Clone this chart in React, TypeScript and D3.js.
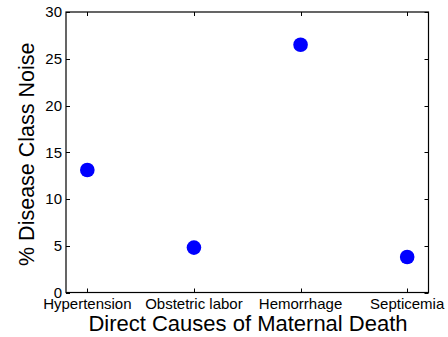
import React, { useEffect, useRef } from "react";
import * as d3 from "d3";

const causes = ["Hypertension", "Obstetric labor", "Hemorrhage", "Septicemia"];
const noise = [13.1, 4.8, 26.5, 3.8];
const yTicks = [0, 5, 10, 15, 20, 25, 30];

export default function App() {
  const ref = useRef<SVGSVGElement>(null);

  useEffect(() => {
    const svg = d3.select(ref.current);
    svg.selectAll("*").remove();

    const left = 66, right = 428.5, top = 12, bottom = 292.5;
    const font = "Liberation Sans, Arial, Helvetica, sans-serif";

    const x = d3.scaleLinear().domain([0.8, 4.2]).range([left, right]);
    const y = d3.scaleLinear().domain([0, 30]).range([bottom, top]);

    const g = svg.append("g");

    // box
    g.append("rect")
      .attr("x", left).attr("y", top)
      .attr("width", right - left).attr("height", bottom - top)
      .attr("fill", "none").attr("stroke", "#000").attr("stroke-width", 1.2);

    // y ticks, inward on both sides
    yTicks.forEach(t => {
      const yy = Math.round(y(t)) + 0.5;
      g.append("line").attr("x1", left).attr("x2", left + 4).attr("y1", yy).attr("y2", yy).attr("stroke", "#000");
      g.append("line").attr("x1", right - 4).attr("x2", right).attr("y1", yy).attr("y2", yy).attr("stroke", "#000");
      g.append("text")
        .attr("x", left - 4).attr("y", y(t))
        .attr("dy", "0.35em")
        .attr("text-anchor", "end")
        .attr("font-family", font).attr("font-size", 15)
        .text(t);
    });

    // x ticks
    causes.forEach((c, i) => {
      const xx = Math.round(x(i + 1)) + 0.5;
      g.append("line").attr("x1", xx).attr("x2", xx).attr("y1", bottom - 4).attr("y2", bottom).attr("stroke", "#000");
      g.append("line").attr("x1", xx).attr("x2", xx).attr("y1", top).attr("y2", top + 4).attr("stroke", "#000");
      g.append("text")
        .attr("x", x(i + 1)).attr("y", 309)
        .attr("text-anchor", "middle")
        .attr("font-family", font).attr("font-size", 15)
        .text(c);
    });

    // points
    g.selectAll("circle.pt")
      .data(noise)
      .enter()
      .append("circle")
      .attr("class", "pt")
      .attr("cx", (d, i) => x(i + 1))
      .attr("cy", d => y(d))
      .attr("r", 7.3)
      .attr("fill", "#0000ff");

    // axis labels
    g.append("text")
      .attr("x", 248).attr("y", 331)
      .attr("text-anchor", "middle")
      .attr("font-family", font).attr("font-size", 22)
      .text("Direct Causes of Maternal Death");

    g.append("text")
      .attr("transform", `translate(34,${(top + bottom) / 2 + 2}) rotate(-90)`)
      .attr("text-anchor", "middle")
      .attr("font-family", font).attr("font-size", 21.5)
      .text("% Disease Class Noise");
  }, []);

  return (
    <svg ref={ref} width={448} height={337}
      style={{ position: "absolute", left: 0, top: 0, background: "#fff" }} />
  );
}
